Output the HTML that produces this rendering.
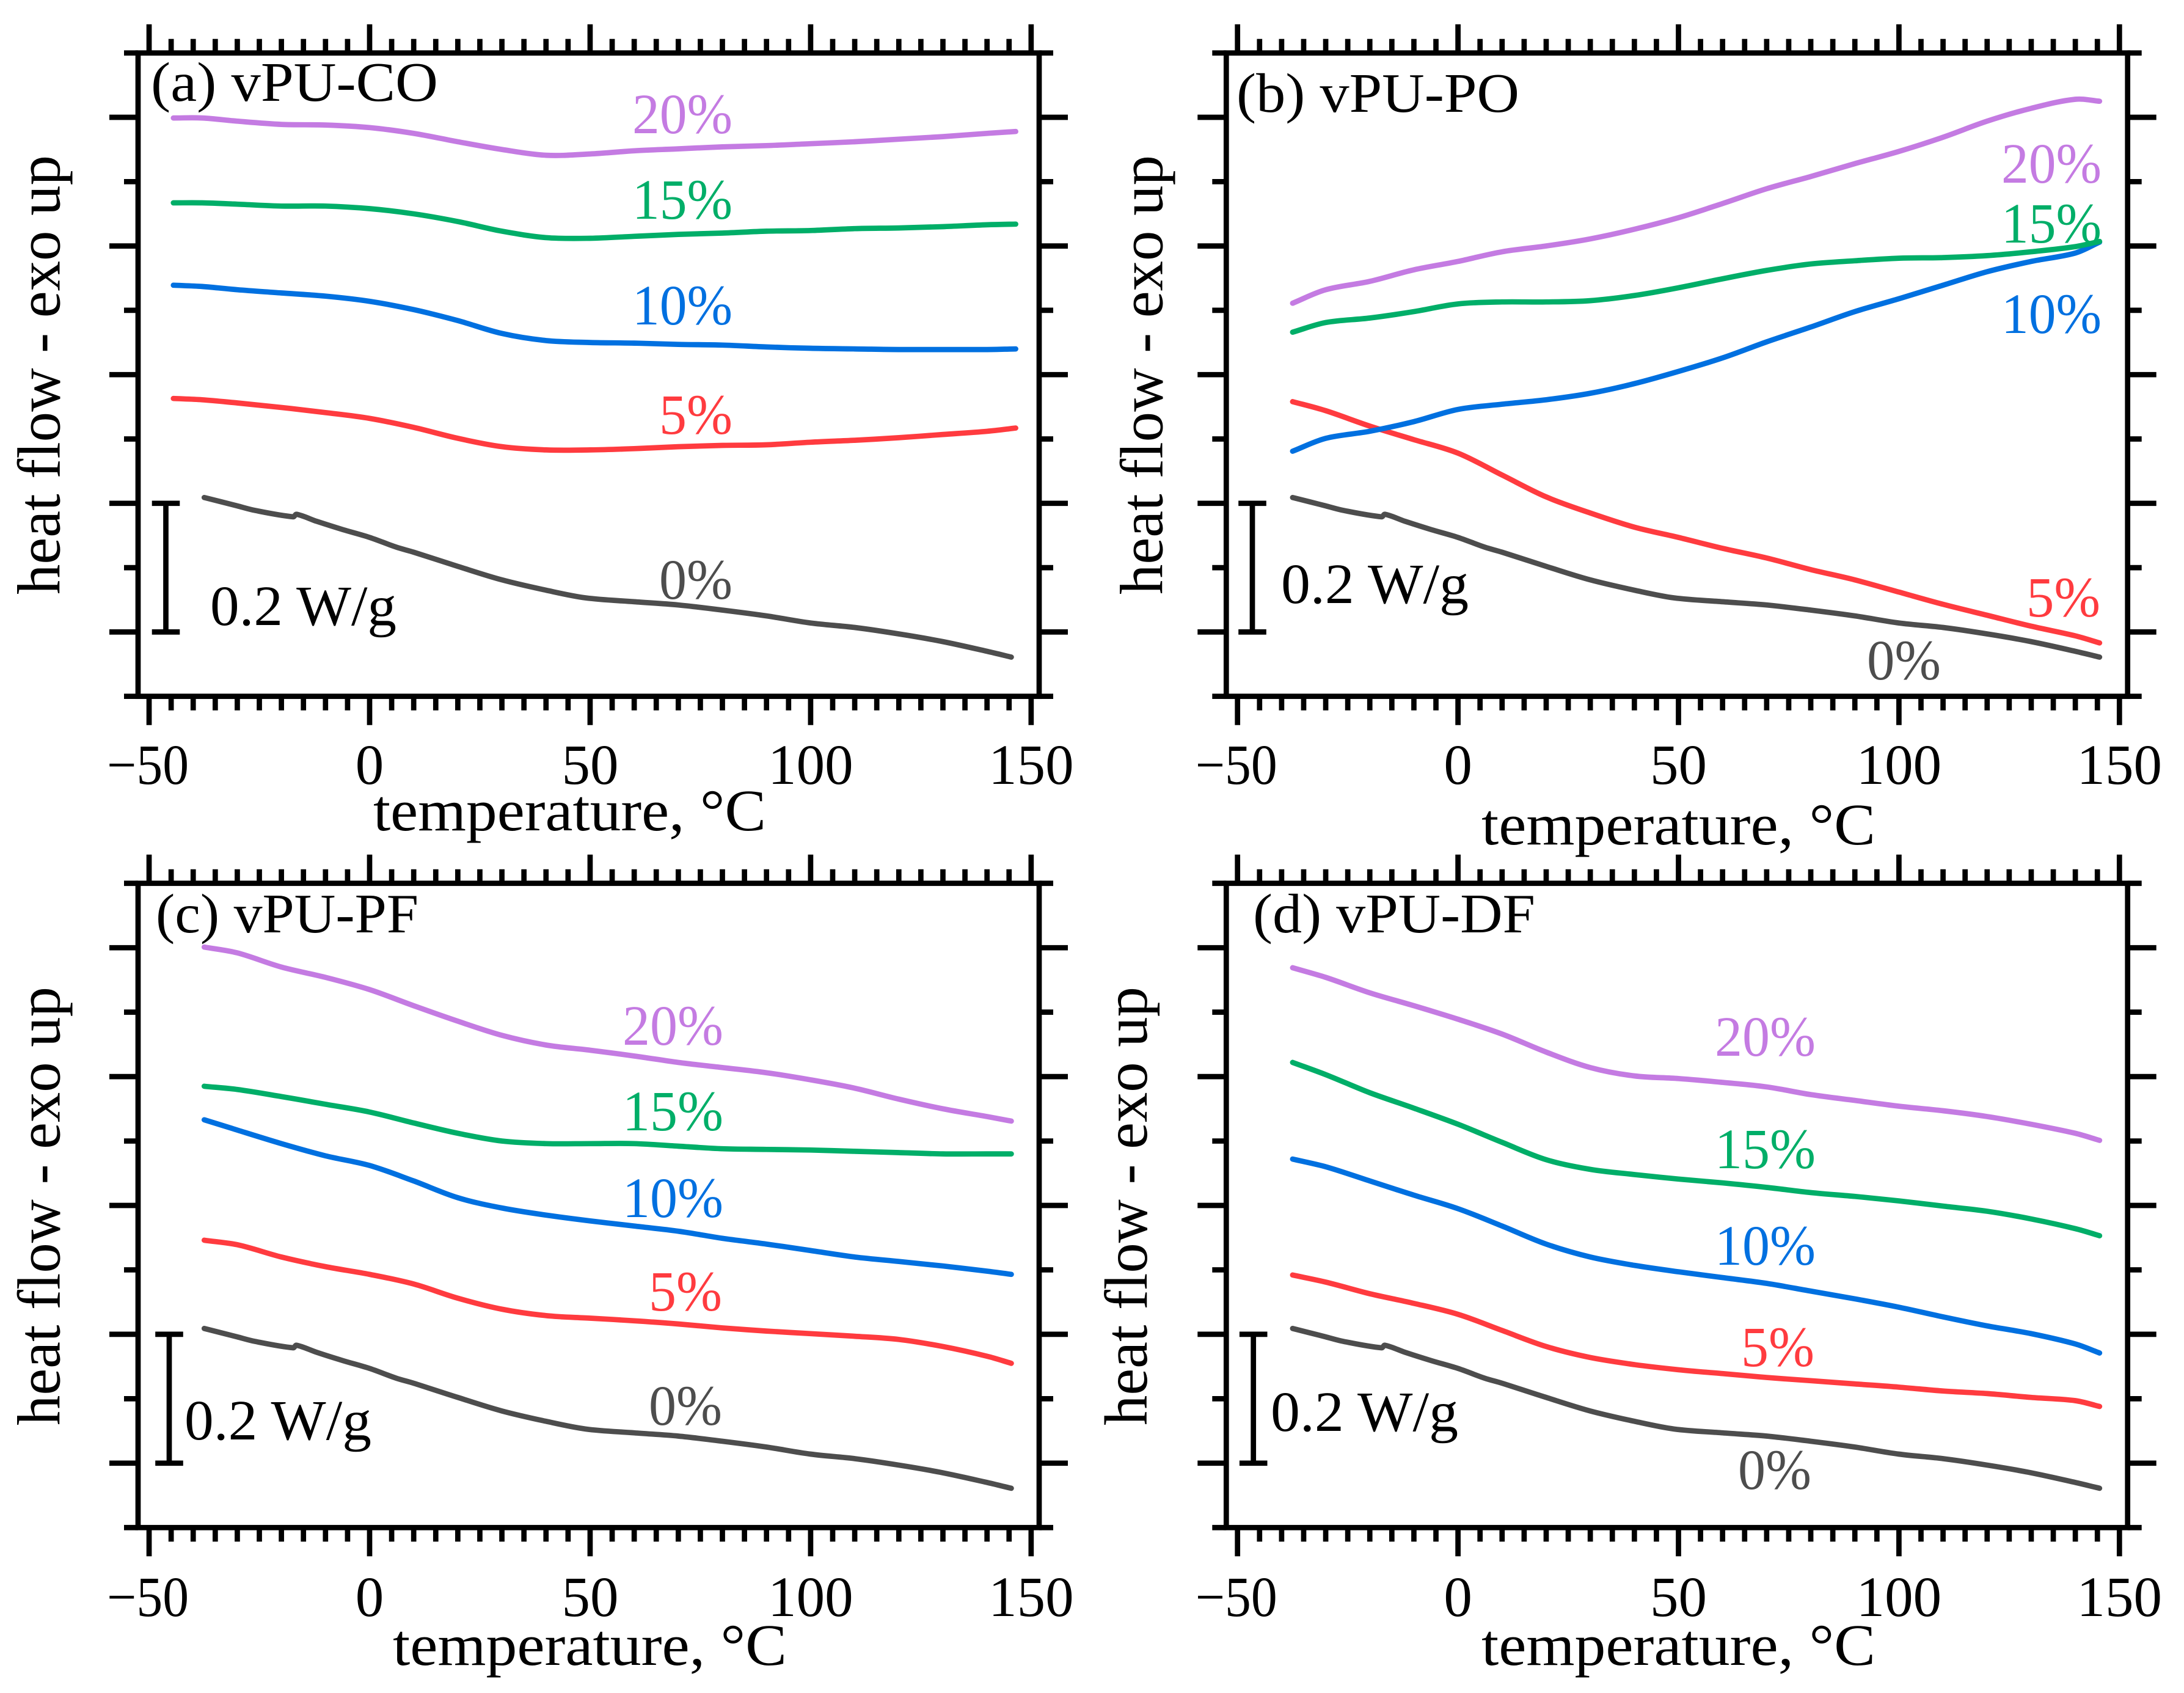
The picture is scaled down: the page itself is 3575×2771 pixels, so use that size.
<!DOCTYPE html>
<html lang="en">
<head>
<meta charset="utf-8">
<title>Heat flow vs temperature - vPU panels</title>
<style>
html,body{margin:0;padding:0;background:#fff;}
svg{display:block;}
text{font-family:"Liberation Serif","Noto Serif CJK SC",serif;fill:#000;}
.pct{font-size:93px;}
.tl{font-size:93px;}
.xl{font-size:96px;}
.yl{font-size:100px;}
.tt{font-size:91px;}
.sb{font-size:93px;}
.c20{fill:#c47be2;} .c15{fill:#00ae68;} .c10{fill:#0070e0;} .c5{fill:#ff3b3f;} .c0{fill:#4d4d4d;}
</style>
</head>
<body>
<svg id="figure" xmlns="http://www.w3.org/2000/svg" width="3575" height="2771" viewBox="0 0 3575 2771">
  <rect x="0" y="0" width="3575" height="2771" fill="#fff"/>

  <g id="panel-a">
    <text class="tt" x="247" y="165" textLength="470" lengthAdjust="spacingAndGlyphs">(a) vPU-CO</text>
    <text class="yl" transform="translate(97.6,973) rotate(-90)" textLength="719" lengthAdjust="spacingAndGlyphs">heat flow - exo up</text>
    <text class="xl" x="611" y="1359" textLength="643" lengthAdjust="spacingAndGlyphs">temperature, °C</text>
    <text class="sb" x="344" y="1023" textLength="305" lengthAdjust="spacingAndGlyphs">0.2 W/g</text>
    <text class="pct c20" x="1035" y="218" textLength="164" lengthAdjust="spacingAndGlyphs">20%</text>
    <text class="pct c15" x="1035" y="358" textLength="164" lengthAdjust="spacingAndGlyphs">15%</text>
    <text class="pct c10" x="1035" y="531" textLength="164" lengthAdjust="spacingAndGlyphs">10%</text>
    <text class="pct c5" x="1079" y="710" textLength="120" lengthAdjust="spacingAndGlyphs">5%</text>
    <text class="pct c0" x="1079" y="980" textLength="120" lengthAdjust="spacingAndGlyphs">0%</text>
  </g>

  <g id="panel-b">
    <text class="tt" x="2024" y="183" textLength="463" lengthAdjust="spacingAndGlyphs">(b) vPU-PO</text>
    <text class="yl" transform="translate(1902.5,973) rotate(-90)" textLength="719" lengthAdjust="spacingAndGlyphs">heat flow - exo up</text>
    <text class="xl" x="2425" y="1382" textLength="645" lengthAdjust="spacingAndGlyphs">temperature, °C</text>
    <text class="sb" x="2097" y="987" textLength="307" lengthAdjust="spacingAndGlyphs">0.2 W/g</text>
    <text class="pct c20" x="3276" y="299" textLength="164" lengthAdjust="spacingAndGlyphs">20%</text>
    <text class="pct c15" x="3276" y="397" textLength="164" lengthAdjust="spacingAndGlyphs">15%</text>
    <text class="pct c10" x="3276" y="545" textLength="164" lengthAdjust="spacingAndGlyphs">10%</text>
    <text class="pct c5" x="3317" y="1009" textLength="121" lengthAdjust="spacingAndGlyphs">5%</text>
    <text class="pct c0" x="3056" y="1112" textLength="121" lengthAdjust="spacingAndGlyphs">0%</text>
  </g>

  <g id="panel-c">
    <text class="tt" x="255" y="1526" textLength="430" lengthAdjust="spacingAndGlyphs">(c) vPU-PF</text>
    <text class="yl" transform="translate(97.6,2333) rotate(-90)" textLength="718" lengthAdjust="spacingAndGlyphs">heat flow - exo up</text>
    <text class="xl" x="643" y="2725" textLength="645" lengthAdjust="spacingAndGlyphs">temperature, °C</text>
    <text class="sb" x="302" y="2356" textLength="306" lengthAdjust="spacingAndGlyphs">0.2 W/g</text>
    <text class="pct c20" x="1019" y="1710" textLength="165" lengthAdjust="spacingAndGlyphs">20%</text>
    <text class="pct c15" x="1019" y="1850" textLength="165" lengthAdjust="spacingAndGlyphs">15%</text>
    <text class="pct c10" x="1019" y="1992" textLength="165" lengthAdjust="spacingAndGlyphs">10%</text>
    <text class="pct c5" x="1062" y="2145" textLength="120" lengthAdjust="spacingAndGlyphs">5%</text>
    <text class="pct c0" x="1062" y="2332" textLength="120" lengthAdjust="spacingAndGlyphs">0%</text>
  </g>

  <g id="panel-d">
    <text class="tt" x="2051" y="1526" textLength="462" lengthAdjust="spacingAndGlyphs">(d) vPU-DF</text>
    <text class="yl" transform="translate(1877,2333) rotate(-90)" textLength="718" lengthAdjust="spacingAndGlyphs">heat flow - exo up</text>
    <text class="xl" x="2425" y="2725" textLength="645" lengthAdjust="spacingAndGlyphs">temperature, °C</text>
    <text class="sb" x="2080" y="2342" textLength="307" lengthAdjust="spacingAndGlyphs">0.2 W/g</text>
    <text class="pct c20" x="2807" y="1728" textLength="165" lengthAdjust="spacingAndGlyphs">20%</text>
    <text class="pct c15" x="2807" y="1912" textLength="165" lengthAdjust="spacingAndGlyphs">15%</text>
    <text class="pct c10" x="2807" y="2070" textLength="165" lengthAdjust="spacingAndGlyphs">10%</text>
    <text class="pct c5" x="2850" y="2236" textLength="120" lengthAdjust="spacingAndGlyphs">5%</text>
    <text class="pct c0" x="2845" y="2437" textLength="120" lengthAdjust="spacingAndGlyphs">0%</text>
  </g>
</svg>

<script>
// Axis tick values
const xMajorTicks = [-50, 0, 50, 100, 150];
const xMinorStepDeg = 5;
const yMajorTicks = [0, 200, 400, 600, 800];       // mW/g, offset curves
const yMinorTicks = [-100, 100, 300, 500, 700, 900];
const scaleBarRange = [0, 200];                    // 0.2 W/g

// Temperature grids (deg C)
const tempsCO = [-44.5,-38,-30,-20,-10,0,10,20,30,40,50,60,70,80,90,100,110,120,130,140,146.5];
const temps = [-37.5,-30,-20,-10,0,10,20,30,40,50,60,70,80,90,100,110,120,130,140,145.5];
const tempsNeat = [-37.5,-30,-26,-17.3,-16.6,-12,-6,0,6,10,20,30,40,49,60,70,80,90,100,110,120,130,140,145.5];

// 0% reference curve, shared by every panel (mW/g, offset)
const neat0 = [209,196,189,179,183,172,159,147,132,124,102,81,65,53,47,42,34,25,14,7,-3,-15,-30,-39];

// Panel (a) vPU-CO
const co5 = [363,361,356,349,341,332,318,301,288,283,283,285,288,290,291,295,298,302,307,312,317];
const co10 = [539,537,532,527,522,514,501,484,464,453,450,449,447,446,443,441,440,439,439,439,440];
const co15 = [667,667,665,662,662,658,650,638,623,613,612,615,618,620,623,624,627,628,630,633,634];
const co20 = [799,799,794,789,788,784,775,762,750,741,743,748,751,754,756,759,762,766,770,775,778];

// Panel (b) vPU-PO
const po5 = [358,344,320,299,278,244,210,185,163,147,130,115,97,81,62,43,26,9,-6,-17];
const po10 = [281,301,312,327,346,354,361,371,386,405,426,451,474,498,518,539,560,576,589,606];
const po15 = [466,481,488,498,510,513,513,515,523,535,549,562,572,577,581,582,585,591,599,607];
const po20 = [511,532,545,563,576,591,600,611,626,644,666,689,708,728,747,769,794,814,828,825];

// Panel (c) vPU-PF
const pf5 = [346,339,320,305,293,278,256,239,229,225,221,216,210,205,201,197,192,181,166,155];
const pf10 = [533,517,496,477,462,438,412,396,385,376,368,360,349,340,330,320,313,306,298,293];
const pf15 = [585,580,569,557,545,528,512,500,496,496,496,492,488,487,486,484,482,480,480,480];
const pf20 = [801,792,770,754,735,710,686,664,649,641,632,622,614,606,595,582,565,550,538,531];

// Panel (d) vPU-DF
const df5 = [292,281,263,248,231,206,181,164,153,145,139,133,128,123,118,112,108,102,97,88];
const df10 = [472,460,438,416,395,368,340,320,307,297,288,279,267,255,242,227,213,201,185,171];
const df15 = [622,603,575,551,526,498,471,456,448,441,435,428,420,414,407,399,391,379,364,353];
const df20 = [769,754,730,710,689,666,638,614,601,597,591,584,572,563,554,547,538,526,512,501];

const seriesColors = {s0:'#4d4d4d', s5:'#ff3b3f', s10:'#0070e0', s15:'#00ae68', s20:'#c47be2'};

const NS = 'http://www.w3.org/2000/svg';

function makeXScale(zeroPx, pxPerDeg) { return t => zeroPx + t * pxPerDeg; }
function makeYScale(zeroPx, pxPerUnit) { return v => zeroPx - v * pxPerUnit; }

function smoothPath(pts) {
  const unit = (a, b) => {
    const dx = b[0] - a[0], dy = b[1] - a[1], n = Math.hypot(dx, dy) || 1;
    return [dx / n, dy / n];
  };
  let d = 'M' + pts[0][0].toFixed(1) + ' ' + pts[0][1].toFixed(1);
  for (let i = 0; i < pts.length - 1; i++) {
    const p0 = pts[Math.max(i - 1, 0)], p1 = pts[i], p2 = pts[i + 1], p3 = pts[Math.min(i + 2, pts.length - 1)];
    const seg = Math.hypot(p2[0] - p1[0], p2[1] - p1[1]) / 3;
    const m1 = unit(p0, p2), m2 = unit(p1, p3);
    d += 'C' + (p1[0] + m1[0] * seg).toFixed(1) + ' ' + (p1[1] + m1[1] * seg).toFixed(1) + ' ' +
         (p2[0] - m2[0] * seg).toFixed(1) + ' ' + (p2[1] - m2[1] * seg).toFixed(1) + ' ' +
         p2[0].toFixed(1) + ' ' + p2[1].toFixed(1);
  }
  return d;
}

function addLine(parent, x1, y1, x2, y2, width) {
  const el = document.createElementNS(NS, 'line');
  el.setAttribute('x1', x1);
  el.setAttribute('y1', y1);
  el.setAttribute('x2', x2);
  el.setAttribute('y2', y2);
  el.setAttribute('stroke', '#000');
  el.setAttribute('stroke-width', width);
  parent.appendChild(el);
  return el;
}

function drawPanel(id, frame, seriesList) {
  const g = document.getElementById(id);
  const X = makeXScale(frame.x0, frame.xk);
  const Y = makeYScale(frame.y0, frame.yk);
  const w = 8.7, major = 47, minor = 23;

  const spine = document.createElementNS(NS, 'rect');
  
  
  spine.setAttribute('x', frame.left);
  spine.setAttribute('y', Y(yMinorTicks[yMinorTicks.length - 1]));
  spine.setAttribute('width', frame.right - frame.left);
  spine.setAttribute('height', Y(yMinorTicks[0]) - Y(yMinorTicks[yMinorTicks.length - 1]));
  spine.setAttribute('fill', 'none');
  spine.setAttribute('stroke', '#000');
  spine.setAttribute('stroke-width', w);
  g.appendChild(spine);

  const top = Y(yMinorTicks[yMinorTicks.length - 1]), bottom = Y(yMinorTicks[0]);

  for (let t = xMajorTicks[0]; t <= xMajorTicks[xMajorTicks.length - 1]; t += xMinorStepDeg) {
    const isMajor = xMajorTicks.includes(t);
    const len = isMajor ? major : minor;
    const b = addLine(g, X(t), bottom, X(t), bottom + len, w);
    
    
    const u = addLine(g, X(t), top, X(t), top - len, w);
    
    
  }
  yMajorTicks.concat(yMinorTicks).forEach(v => {
    const len = yMajorTicks.includes(v) ? major : minor;
    const l = addLine(g, frame.left, Y(v), frame.left - len, Y(v), w);
    
    
    const r = addLine(g, frame.right, Y(v), frame.right + len, Y(v), w);
    
    
  });

  xMajorTicks.forEach(t => {
    const tx = document.createElementNS(NS, 'text');
    
    
    tx.setAttribute('class', 'tl');
    tx.setAttribute('x', X(t) - (t < 0 ? 2 : 0));
    tx.setAttribute('y', frame.labelY);
    tx.setAttribute('text-anchor', 'middle');
    if (t < 0) {
      tx.setAttribute('textLength', '134');
      tx.setAttribute('lengthAdjust', 'spacingAndGlyphs');
    }
    tx.textContent = t < 0 ? '\u2212' + Math.abs(t) : String(t);
    g.appendChild(tx);
  });

  const stem = addLine(g, frame.barX, Y(scaleBarRange[0]), frame.barX, Y(scaleBarRange[1]), w);
  
  
  scaleBarRange.forEach(v => {
    const cap = addLine(g, frame.barX - 22.8, Y(v), frame.barX + 22.8, Y(v), w);
    
    
  });

  seriesList.forEach(s => {
    const pts = s.x.map((t, i) => [X(t), Y(s.y[i])]);
    const path = document.createElementNS(NS, 'path');
    
    
    path.setAttribute('d', smoothPath(pts));
    path.setAttribute('fill', 'none');
    path.setAttribute('stroke', s.color);
    path.setAttribute('stroke-width', '8.7');
    path.setAttribute('stroke-linejoin', 'round');
    path.setAttribute('stroke-linecap', 'round');
    g.appendChild(path);
  });
}

drawPanel('panel-a', {x0:605, xk:7.219, y0:1034.4, yk:1.053, left:226, right:1701, labelY:1283, barX:271.5}, [
  {name:'0-percent', x:tempsNeat, y:neat0, color:seriesColors.s0},
  {name:'5-percent', x:tempsCO, y:co5, color:seriesColors.s5},
  {name:'10-percent', x:tempsCO, y:co10, color:seriesColors.s10},
  {name:'15-percent', x:tempsCO, y:co15, color:seriesColors.s15},
  {name:'20-percent', x:tempsCO, y:co20, color:seriesColors.s20}
]);
drawPanel('panel-b', {x0:2386.6, xk:7.218, y0:1034.4, yk:1.053, left:2007.3, right:3482.7, labelY:1283, barX:2050}, [
  {name:'0-percent', x:tempsNeat, y:neat0, color:seriesColors.s0},
  {name:'5-percent', x:temps, y:po5, color:seriesColors.s5},
  {name:'10-percent', x:temps, y:po10, color:seriesColors.s10},
  {name:'15-percent', x:temps, y:po15, color:seriesColors.s15},
  {name:'20-percent', x:temps, y:po20, color:seriesColors.s20}
]);
drawPanel('panel-c', {x0:605, xk:7.219, y0:2394.8, yk:1.0545, left:226, right:1701, labelY:2645, barX:277}, [
  {name:'0-percent', x:tempsNeat, y:neat0, color:seriesColors.s0},
  {name:'5-percent', x:temps, y:pf5, color:seriesColors.s5},
  {name:'10-percent', x:temps, y:pf10, color:seriesColors.s10},
  {name:'15-percent', x:temps, y:pf15, color:seriesColors.s15},
  {name:'20-percent', x:temps, y:pf20, color:seriesColors.s20}
]);
drawPanel('panel-d', {x0:2386.6, xk:7.218, y0:2394.8, yk:1.0545, left:2007.3, right:3482.7, labelY:2645, barX:2051.7}, [
  {name:'0-percent', x:tempsNeat, y:neat0, color:seriesColors.s0},
  {name:'5-percent', x:temps, y:df5, color:seriesColors.s5},
  {name:'10-percent', x:temps, y:df10, color:seriesColors.s10},
  {name:'15-percent', x:temps, y:df15, color:seriesColors.s15},
  {name:'20-percent', x:temps, y:df20, color:seriesColors.s20}
]);
</script>
</body>
</html>
